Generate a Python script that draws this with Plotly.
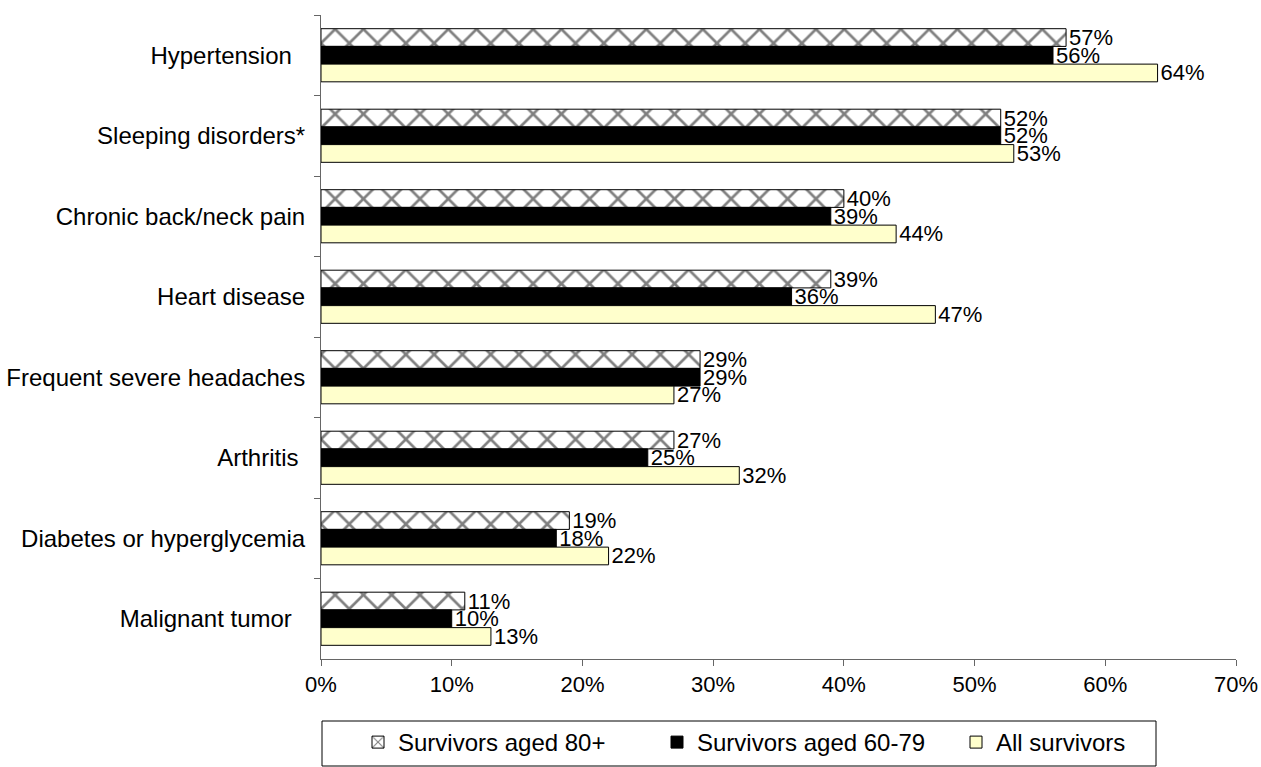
import plotly.graph_objects as go

# Chronic conditions reported by survivors, by age group (percent)
conditions = [
    "Hypertension\u00a0\u00a0",
    "Sleeping disorders*",
    "Chronic back/neck pain",
    "Heart disease",
    "Frequent severe headaches",
    "Arthritis\u00a0",
    "Diabetes or hyperglycemia",
    "Malignant tumor\u00a0\u00a0",
]
aged_80_plus = [57, 52, 40, 39, 29, 27, 19, 11]
aged_60_79 = [56, 52, 39, 36, 29, 25, 18, 10]
all_survivors = [64, 53, 44, 47, 27, 32, 22, 13]

series_names = ["Survivors aged 80+", "Survivors aged 60-79", "All survivors"]
x_ticks = [0, 10, 20, 30, 40, 50, 60, 70]
x_tick_labels = [f"{v}%" for v in x_ticks]

FONT = "Liberation Sans, Arial, sans-serif"
W, H = 1261, 767
L, R, T, B = 321, 25, 15, 108
PW, PH = W - L - R, H - T - B


def px_to_paper_x(px):
    return (px - L) / PW


def px_to_paper_y(py):
    return (H - B - py) / PH


def pct_labels(values):
    return [f"{v}%" for v in values]


fig = go.Figure()

bar_common = dict(
    y=conditions,
    orientation="h",
    textposition="outside",
    texttemplate="%{text}",
    textfont=dict(family=FONT, size=22, color="black"),
    constraintext="none",
    cliponaxis=False,
)

fig.add_trace(go.Bar(
    name=series_names[0], x=aged_80_plus, text=pct_labels(aged_80_plus),
    marker=dict(
        color="white",
        line=dict(color="black", width=1),
        pattern=dict(shape="x", fgcolor="black", bgcolor="white",
                     size=20, solidity=0.25, fillmode="overlay"),
    ),
    **bar_common,
))
fig.add_trace(go.Bar(
    name=series_names[1], x=aged_60_79, text=pct_labels(aged_60_79),
    marker=dict(color="black", line=dict(color="black", width=1)),
    **bar_common,
))
fig.add_trace(go.Bar(
    name=series_names[2], x=all_survivors, text=pct_labels(all_survivors),
    marker=dict(color="#FFFFCC", line=dict(color="black", width=1)),
    **bar_common,
))

fig.update_layout(
    width=W, height=H,
    margin=dict(l=L, r=R, t=T, b=B, pad=0, autoexpand=False),
    paper_bgcolor="white", plot_bgcolor="white",
    barmode="group", bargap=0.34, bargroupgap=0,
    font=dict(family=FONT, size=24, color="black"),
    showlegend=True,
    legend=dict(
        orientation="h",
        xref="container", yref="container",
        x=358 / W, xanchor="left",
        y=1 - 720 / H, yanchor="top",
        bgcolor="rgba(0,0,0,0)",
        borderwidth=0,
        entrywidth=254, entrywidthmode="pixels",
        font=dict(family=FONT, size=24, color="black"),
        traceorder="normal",
    ),
    shapes=[dict(
        type="rect", xref="paper", yref="paper",
        x0=px_to_paper_x(322), x1=px_to_paper_x(1156),
        y0=px_to_paper_y(721), y1=px_to_paper_y(766),
        line=dict(color="black", width=1), fillcolor="rgba(0,0,0,0)",
    )],
)

fig.update_xaxes(
    range=[0, 70], tickvals=x_ticks, ticktext=x_tick_labels,
    showgrid=False, zeroline=False, automargin=False,
    showline=True, linecolor="#666666", linewidth=1,
    ticks="outside", ticklen=6, tickcolor="#666666",
    tickfont=dict(family=FONT, size=22, color="black"),
)
fig.update_yaxes(
    categoryorder="array", categoryarray=conditions, autorange="reversed",
    showgrid=False, zeroline=False, automargin=False,
    showline=True, linecolor="#666666", linewidth=1,
    ticks="outside", ticklen=6, tickcolor="#666666", tickson="boundaries",
    tickfont=dict(family=FONT, size=24, color="black"),
    ticklabelstandoff=10,
)

fig.write_html("out.html")
